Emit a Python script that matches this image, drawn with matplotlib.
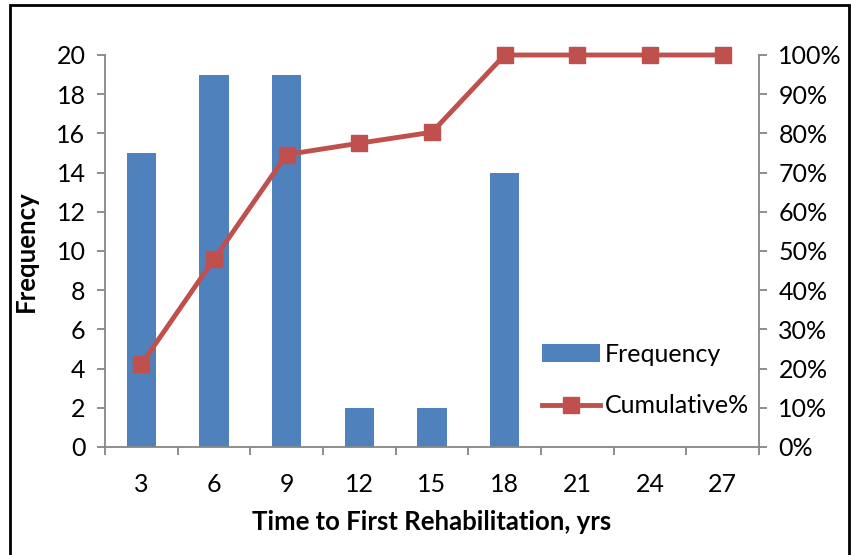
import numpy as np
import matplotlib.pyplot as plt
from matplotlib.patches import Rectangle
from matplotlib.ticker import FuncFormatter, FixedLocator

plt.rcParams['font.family'] = ['Lato', 'DejaVu Sans']

# --- Data ---
years = [3, 6, 9, 12, 15, 18, 21, 24, 27]
frequency = [15, 19, 19, 2, 2, 14, 0, 0, 0]
cumulative_pct = [21.1, 47.9, 74.6, 77.5, 80.3, 100, 100, 100, 100]

BAR_COLOR = '#4F81BD'
LINE_COLOR = '#C0504D'
AXIS_GRAY = '#868686'
FS = 18

fig = plt.figure(figsize=(8.51, 5.55), dpi=100)
ax = fig.add_axes([105 / 851, 1 - 447 / 555, (759 - 105) / 851, (447 - 55) / 555])

x = np.arange(len(years))
ax.bar(x, frequency, width=0.4, color=BAR_COLOR, label='Frequency', zorder=2)
ax.set_xlim(-0.5, len(years) - 0.5)
ax.set_ylim(0, 20)
ax.set_yticks(range(0, 21, 2))
ax.set_xticks(x)
ax.set_xticklabels([str(y) for y in years])
ax.xaxis.set_minor_locator(FixedLocator(np.arange(-0.5, len(years), 1.0)))
ax.tick_params(axis='x', which='major', length=0, pad=19, labelsize=FS)
ax.tick_params(axis='x', which='minor', length=6, width=1.3, color=AXIS_GRAY, direction='out')
ax.tick_params(axis='y', length=6, width=1.3, color=AXIS_GRAY, direction='out', pad=8, labelsize=FS)

for side in ['top', 'right']:
    ax.spines[side].set_visible(False)
for side in ['left', 'bottom']:
    ax.spines[side].set_color(AXIS_GRAY)
    ax.spines[side].set_linewidth(1.3)

ax2 = ax.twinx()
ax2.plot(x, [c / 100 for c in cumulative_pct], color=LINE_COLOR, lw=3.5,
         marker='s', markersize=12, label='Cumulative%', zorder=3, clip_on=False)
ax2.set_ylim(0, 1)
ax2.set_yticks(np.arange(0, 1.01, 0.1))
ax2.yaxis.set_major_formatter(FuncFormatter(lambda v, p: f'{v * 100:.0f}%'))
ax2.tick_params(axis='y', length=6, width=1.3, color=AXIS_GRAY, direction='out', pad=8, labelsize=FS)
for side in ['top', 'left', 'bottom']:
    ax2.spines[side].set_visible(False)
ax2.spines['right'].set_color(AXIS_GRAY)
ax2.spines['right'].set_linewidth(1.3)

ax.set_xlabel('Time to First Rehabilitation, yrs', fontsize=18.5, fontweight='bold')
ax.set_ylabel('Frequency', fontsize=18.5, fontweight='bold')
ax.xaxis.set_label_coords(0.5, -75 / 392, transform=ax.transAxes)
ax.yaxis.set_label_coords(-79 / 654, 0.5, transform=ax.transAxes)
ax.xaxis.label.set_va('center')
ax.yaxis.label.set_va('center')

h1, l1 = ax.get_legend_handles_labels()
h2, l2 = ax2.get_legend_handles_labels()
leg = ax2.legend(h1 + h2, l1 + l2, loc='lower right', bbox_to_anchor=(1.0, 0.05),
                 frameon=False, fontsize=FS, handlelength=2.3, handletextpad=0.2,
                 labelspacing=1.15, borderaxespad=0.0)

fig.patches.append(Rectangle((10 / 851, -0.02), (849 - 10) / 851, 1.02 - 5 / 555,
                             transform=fig.transFigure, fill=False, ec='black', lw=2))

fig.savefig('out.png', dpi=100)
